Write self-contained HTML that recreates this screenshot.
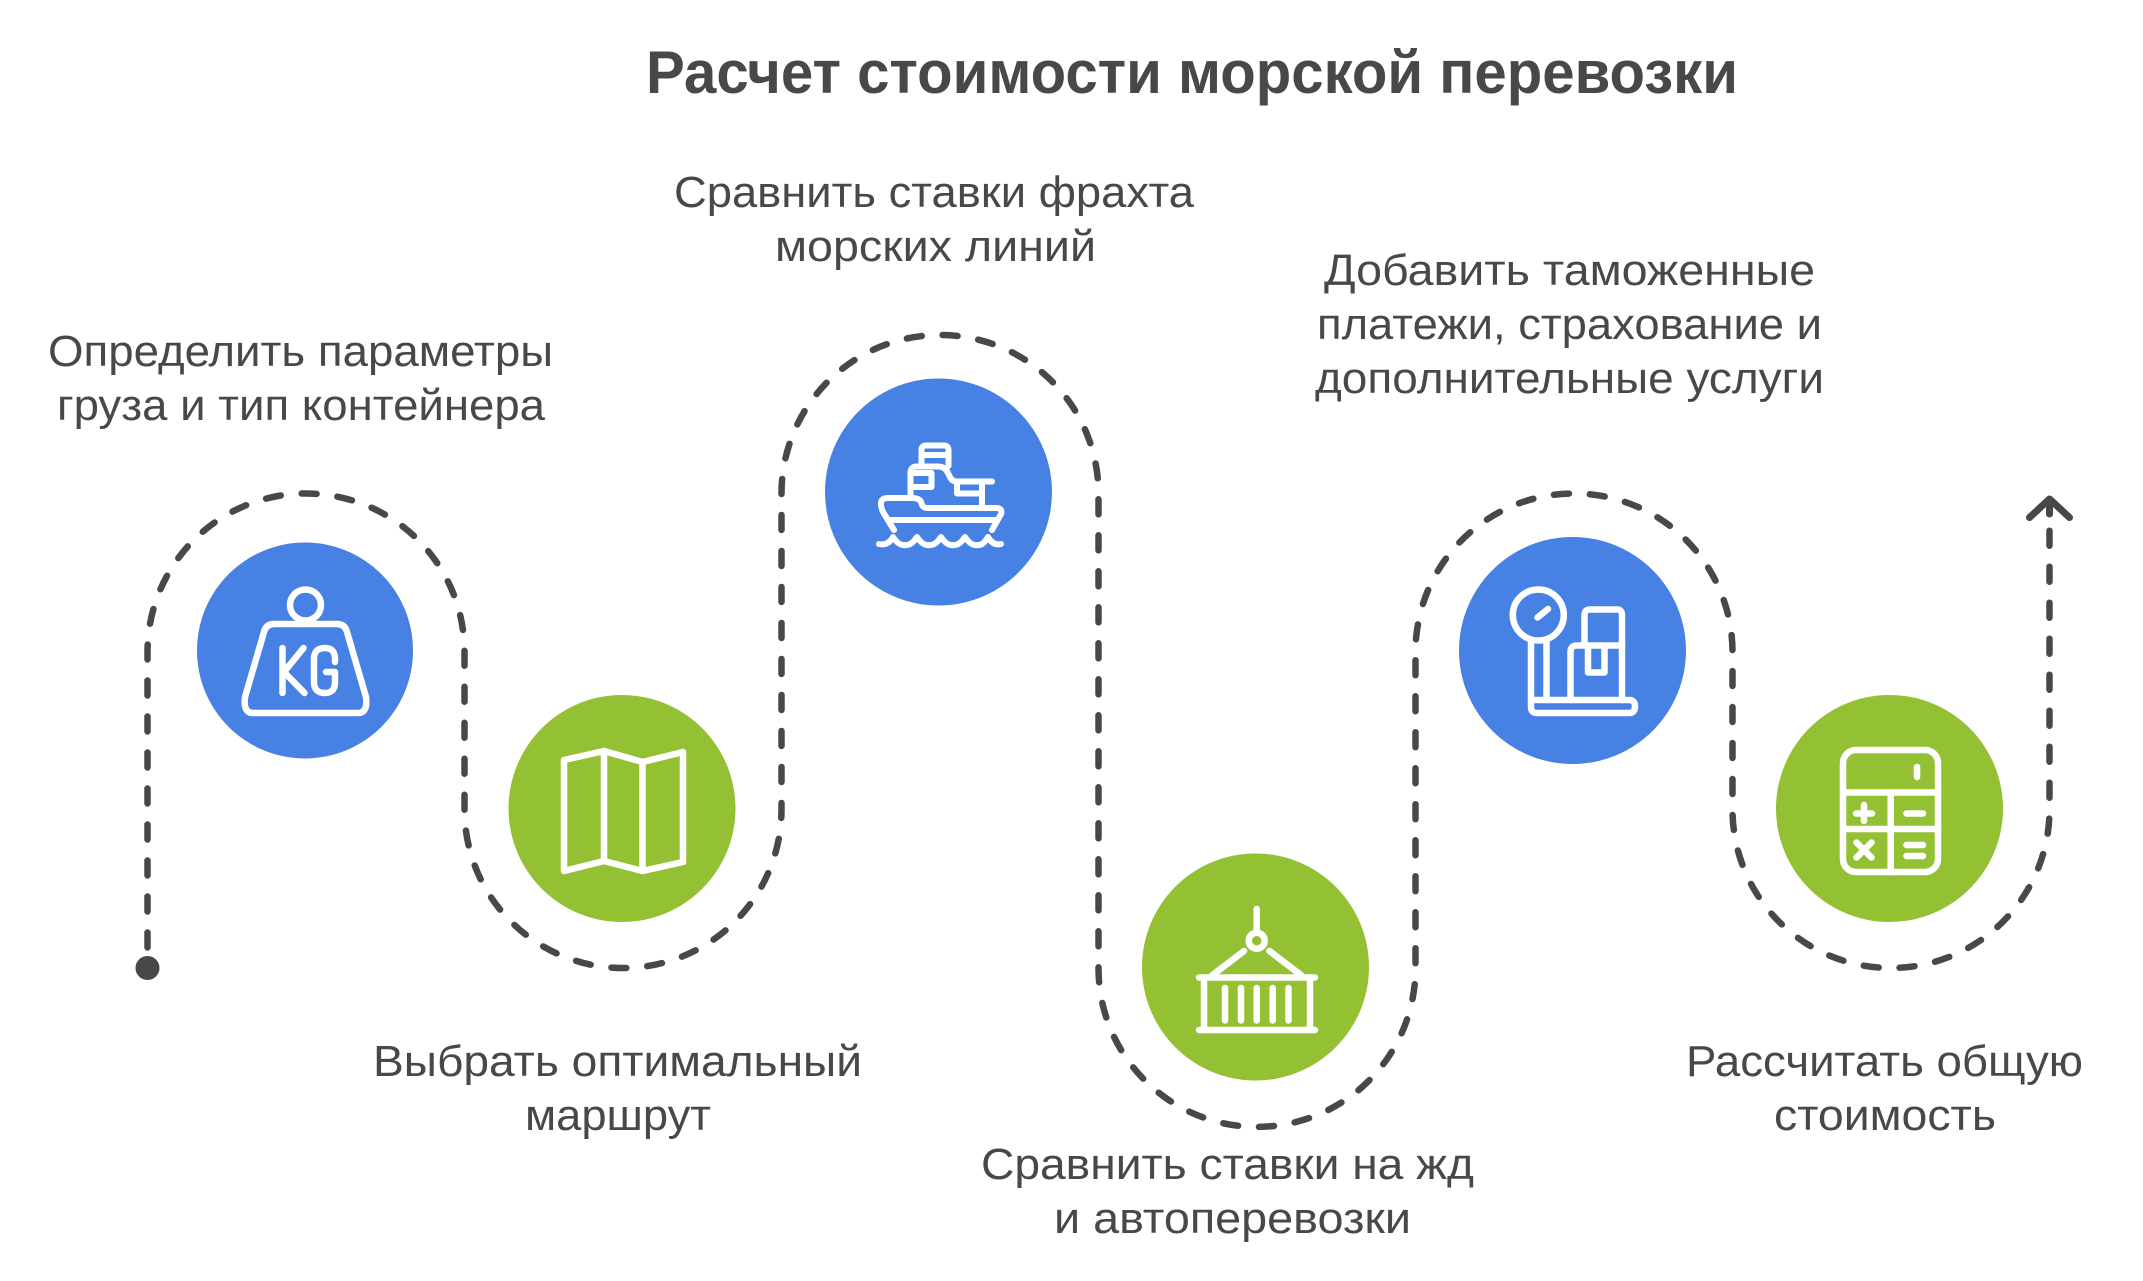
<!DOCTYPE html>
<html lang="ru">
<head>
<meta charset="utf-8">
<title>Расчет стоимости морской перевозки</title>
<style>
html,body{margin:0;padding:0;background:#fff;width:2143px;height:1281px;overflow:hidden}
svg{display:block}
text{font-family:"Liberation Sans","Noto Sans CJK SC",sans-serif;fill:#484848;font-size:44px}
.t{font-size:60px;font-weight:700}
.i{fill:none;stroke:#fff;stroke-width:6.5;stroke-linecap:round;stroke-linejoin:round}
</style>
</head>
<body>
<svg width="2143" height="1281" viewBox="0 0 2143 1281" xmlns="http://www.w3.org/2000/svg">
<rect width="2143" height="1281" fill="#fff"/>

<!-- dashed route -->
<path d="M147.5 968 V652 A158.5 158.5 0 0 1 464.5 652 V809.5 A158.5 158.5 0 0 0 781.5 809.5 V493.5 A158.5 158.5 0 0 1 1098.5 493.5 V968.5 A158.5 158.5 0 0 0 1415.5 968.5 V652 A158.5 158.5 0 0 1 1732.5 652 V809.5 A158.5 158.5 0 0 0 2049.5 809.5 V528" fill="none" stroke="#484848" stroke-width="6.5" stroke-linecap="round" stroke-dasharray="15 21" stroke-dashoffset="-20.5"/>
<circle cx="147.5" cy="968" r="12" fill="#484848"/>
<path d="M2029.5 517.5 L2049.5 499 L2069.5 517.5 M2049.5 500 V514" fill="none" stroke="#484848" stroke-width="7" stroke-linecap="round" stroke-linejoin="round"/>

<!-- circles -->
<circle cx="305" cy="650.5" r="108" fill="#4681e3"/>
<circle cx="622" cy="808.5" r="113.5" fill="#94c134"/>
<circle cx="938.5" cy="492" r="113.5" fill="#4681e3"/>
<circle cx="1255.5" cy="967" r="113.5" fill="#94c134"/>
<circle cx="1572.5" cy="650.5" r="113.5" fill="#4681e3"/>
<circle cx="1889.5" cy="808.5" r="113.5" fill="#94c134"/>

<!-- KG weight -->
<g class="i">
<circle cx="305.5" cy="605" r="15.5"/>
<path d="M274 624 H337 Q345 624 347 632 L366 697 Q368 713 358 713 H253 Q243 713 245 697 L264 632 Q266 624 274 624 Z"/>
<path d="M282.5 648 V693 M303.5 648 L284 672 L304.5 693"/>
<path d="M335 662 V659 Q335 648 325 648 Q314 648 314 659 V682 Q314 693 325 693 Q335 693 335 682 V672 H326"/>
</g>

<!-- map -->
<g class="i">
<path d="M564 760 L604 751 L642.5 762 L683 752 V862 L642.5 871 L604 861 L564 871 Z"/>
<path d="M604 751 V861 M642.5 762 V871"/>
</g>

<!-- ship -->
<g class="i" style="stroke-width:6">
<path d="M921.5 466 V450 Q921.5 445.5 926 445.5 H944 Q948.5 445.5 948.5 450 V466 M921.5 455 H948.5"/>
<path d="M910.5 496 V473 Q910.5 466.5 917 466.5 H938 Q945 466.5 948 473 L950 477 Q952 481.5 957 481.5 H992"/>
<path d="M911 473 H931.5 V487 H911"/>
<path d="M957 482 V493.5 H982 V507 M982 482 V493.5"/>
<path d="M894 530 L883 512 Q877 498 888 498 H912 Q920 498 921.5 503 Q922 508 928 508 H996 Q1003 508 1001 514 L992 530"/>
<path d="M888 520 H997"/>
<path d="M879 544 Q888 546 893 537 Q899 546 905 545 Q911 546 917 537 Q923 546 929 545 Q935 546 941 537 Q947 546 953 545 Q959 546 965 537 Q971 546 977 545 Q983 546 988 537 Q993 546 1001 544"/>
</g>

<!-- container -->
<g class="i">
<path d="M1256.7 909 V932"/>
<circle cx="1256.7" cy="940.7" r="8"/>
<path d="M1244 951 L1212 975.5 M1269.4 951 L1301.5 975.5"/>
<path d="M1199 977.5 H1315 M1199 1030 H1315 M1204 977.5 V1030 M1310 977.5 V1030"/>
<path d="M1225 988 V1020.5 M1241 988 V1020.5 M1256.7 988 V1020.5 M1272.7 988 V1020.5 M1288.5 988 V1020.5"/>
</g>

<!-- scale -->
<g class="i">
<circle cx="1538.3" cy="615" r="25.5"/>
<path d="M1537.5 617.5 L1548 609"/>
<path d="M1531 640 V707 Q1531 713 1537 713 H1629 Q1635 713 1635 706.5 Q1635 700 1629 700 H1531 M1546.5 640 V700"/>
<path d="M1570.5 700 V652 Q1570.5 645.5 1577 645.5 H1622 V700"/>
<path d="M1584.5 645.5 V615 Q1584.5 609.5 1590 609.5 H1617 Q1622 609.5 1622 615 V645.5"/>
<path d="M1588 646 V672.5 H1604.5 V646"/>
</g>

<!-- calculator -->
<g class="i">
<rect x="1843" y="750" width="95" height="122" rx="13"/>
<path d="M1843 792.5 H1938 M1843 829 H1938 M1890.7 792.5 V872"/>
<path d="M1917 767 V777"/>
<path d="M1864 805 V821 M1856 813.5 H1872"/>
<path d="M1906.5 813.5 H1923"/>
<path d="M1856.5 842.5 L1871.5 857.5 M1871.5 842.5 L1856.5 857.5"/>
<path d="M1906.5 845 H1923 M1906.5 856 H1923"/>
</g>

<!-- text -->
<text class="t" x="646" y="93" textLength="1092" lengthAdjust="spacingAndGlyphs">Расчет стоимости морской перевозки</text>

<text x="674" y="207" textLength="520" lengthAdjust="spacingAndGlyphs">Сравнить ставки фрахта</text>
<text x="775" y="261" textLength="321" lengthAdjust="spacingAndGlyphs">морских линий</text>

<text x="48" y="366" textLength="505" lengthAdjust="spacingAndGlyphs">Определить параметры</text>
<text x="57" y="420" textLength="488" lengthAdjust="spacingAndGlyphs">груза и тип контейнера</text>

<text x="1324" y="285" textLength="491" lengthAdjust="spacingAndGlyphs">Добавить таможенные</text>
<text x="1317" y="339" textLength="505" lengthAdjust="spacingAndGlyphs">платежи, страхование и</text>
<text x="1315" y="393" textLength="509" lengthAdjust="spacingAndGlyphs">дополнительные услуги</text>

<text x="373" y="1076" textLength="489" lengthAdjust="spacingAndGlyphs">Выбрать оптимальный</text>
<text x="525" y="1130" textLength="186" lengthAdjust="spacingAndGlyphs">маршрут</text>

<text x="981" y="1179" textLength="493" lengthAdjust="spacingAndGlyphs">Сравнить ставки на жд</text>
<text x="1054" y="1233" textLength="357" lengthAdjust="spacingAndGlyphs">и автоперевозки</text>

<text x="1686" y="1076" textLength="397" lengthAdjust="spacingAndGlyphs">Рассчитать общую</text>
<text x="1774" y="1130" textLength="222" lengthAdjust="spacingAndGlyphs">стоимость</text>
</svg>
</body>
</html>
